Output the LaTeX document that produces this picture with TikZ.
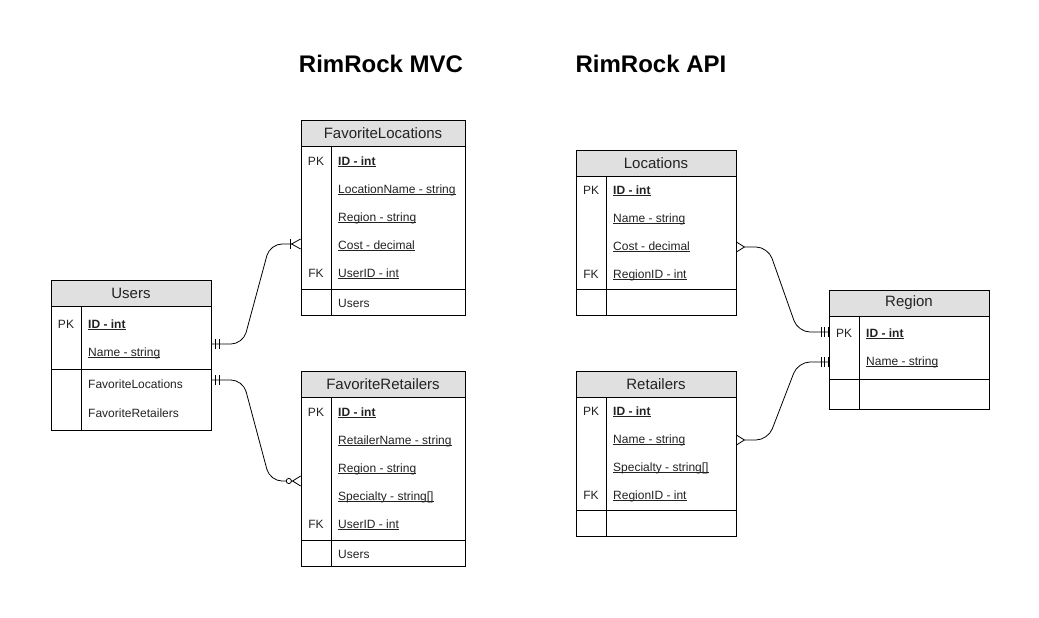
\documentclass[tikz,border=0pt]{standalone}
\usepackage{fontspec}
\setmainfont{Liberation Sans}
\usetikzlibrary{arrows.meta}
\definecolor{headgray}{HTML}{E0E0E0}
\definecolor{textgray}{HTML}{222222}
\newsavebox{\ulbox}
\newcommand{\uln}[1]{\sbox{\ulbox}{#1}\rlap{\rule[-1.9pt]{\wd\ulbox}{0.7pt}}\usebox{\ulbox}}
\tikzstyle{title} = [font=\fontsize{24}{28}\selectfont\bfseries, text=black]
\tikzstyle{header} = [rectangle, minimum width=160pt, minimum height=26pt, inner sep=0pt, outer sep=0pt, line width=0.8pt, draw=black, fill=headgray, text=textgray, font=\fontsize{15}{18}\selectfont]
\tikzstyle{body} = [rectangle, minimum width=160pt, inner sep=0pt, outer sep=0pt, line width=0.8pt, draw=black]
\tikzstyle{field} = [anchor=base west, inner sep=0pt, text=textgray, font=\fontsize{12}{14}\selectfont]
\tikzstyle{key} = [anchor=base, inner sep=0pt, text=textgray, font=\fontsize{12}{14}\selectfont]
\tikzstyle{line} = [draw=black, line width=0.8pt]
\tikzstyle{conn} = [line width=0.8pt, rounded corners=12pt]
\tikzset{
  ERone/.tip = {Bar[width=10pt,sep=3pt] Bar[width=10pt,sep=3pt] Bar[width=10pt]},
  ERmany/.tip = {Straight Barb[reversed,length=8pt,width=10pt]},
  ERonemany/.tip = {Bar[width=10pt,sep=0pt] Straight Barb[reversed,length=9pt,width=10pt]},
  ERzeromany/.tip = {Circle[length=6pt,fill=white,sep=0pt] Straight Barb[reversed,length=8pt,width=10pt]},
}

\begin{document}
\begin{tikzpicture}[x=1pt, y=1pt, yscale=-1]
\useasboundingbox (0,0) rectangle (1039,618);

\node at (381, 64) (mvc) [title] {RimRock MVC};
\node at (651, 64) (api) [title] {RimRock API};

% Users
\node at (131, 293) (users) [header] {Users};
\node at (131, 368) (usersbody) [body, minimum height=124pt] {};
\draw [line] ([xshift=30pt]usersbody.north west) -- ([xshift=30pt]usersbody.south west);
\draw [line] (usersbody.west |- 0,369) -- (usersbody.east |- 0,369);
\node at (66, 328) (userspk) [key] {PK};
\node at (88, 328) (usersid) [field] {\uln{\textbf{ID - int}}};
\node at (88, 356) (usersname) [field] {\uln{Name - string}};
\node at (88, 388) (usersfl) [field] {FavoriteLocations};
\node at (88, 417) (usersfr) [field] {FavoriteRetailers};

% FavoriteLocations
\node at (383, 133) (favloc) [header, minimum width=164pt] {FavoriteLocations};
\node at (383, 230.5) (favlocbody) [body, minimum width=164pt, minimum height=169pt] {};
\draw [line] ([xshift=30pt]favlocbody.north west) -- ([xshift=30pt]favlocbody.south west);
\draw [line] (favlocbody.west |- 0,289) -- (favlocbody.east |- 0,289);
\node at (316, 165) (favlocpk) [key] {PK};
\node at (316, 277) (favlocfk) [key] {FK};
\node at (338, 165) (favlocid) [field] {\uln{\textbf{ID - int}}};
\node at (338, 193) (favlocname) [field] {\uln{LocationName - string}};
\node at (338, 221) (favlocregion) [field] {\uln{Region - string}};
\node at (338, 249) (favloccost) [field] {\uln{Cost - decimal}};
\node at (338, 277) (favlocuser) [field] {\uln{UserID - int}};
\node at (338, 307) (favlocusers) [field] {Users};

% FavoriteRetailers
\node at (383, 384) (favret) [header, minimum width=164pt] {FavoriteRetailers};
\node at (383, 481.5) (favretbody) [body, minimum width=164pt, minimum height=169pt] {};
\draw [line] ([xshift=30pt]favretbody.north west) -- ([xshift=30pt]favretbody.south west);
\draw [line] (favretbody.west |- 0,540) -- (favretbody.east |- 0,540);
\node at (316, 416) (favretpk) [key] {PK};
\node at (316, 528) (favretfk) [key] {FK};
\node at (338, 416) (favretid) [field] {\uln{\textbf{ID - int}}};
\node at (338, 444) (favretname) [field] {\uln{RetailerName - string}};
\node at (338, 472) (favretregion) [field] {\uln{Region - string}};
\node at (338, 500) (favretspec) [field] {\uln{Specialty - string[]}};
\node at (338, 528) (favretuser) [field] {\uln{UserID - int}};
\node at (338, 558) (favretusers) [field] {Users};

% Locations
\node at (656, 163) (loc) [header] {Locations};
\node at (656, 245.5) (locbody) [body, minimum height=139pt] {};
\draw [line] ([xshift=30pt]locbody.north west) -- ([xshift=30pt]locbody.south west);
\draw [line] (locbody.west |- 0,289) -- (locbody.east |- 0,289);
\node at (591, 194) (locpk) [key] {PK};
\node at (591, 278) (locfk) [key] {FK};
\node at (613, 194) (locid) [field] {\uln{\textbf{ID - int}}};
\node at (613, 222) (locname) [field] {\uln{Name - string}};
\node at (613, 250) (loccost) [field] {\uln{Cost - decimal}};
\node at (613, 278) (locregion) [field] {\uln{RegionID - int}};

% Retailers
\node at (656, 384) (ret) [header] {Retailers};
\node at (656, 466.5) (retbody) [body, minimum height=139pt] {};
\draw [line] ([xshift=30pt]retbody.north west) -- ([xshift=30pt]retbody.south west);
\draw [line] (retbody.west |- 0,510) -- (retbody.east |- 0,510);
\node at (591, 415) (retpk) [key] {PK};
\node at (591, 499) (retfk) [key] {FK};
\node at (613, 415) (retid) [field] {\uln{\textbf{ID - int}}};
\node at (613, 443) (retname) [field] {\uln{Name - string}};
\node at (613, 471) (retspec) [field] {\uln{Specialty - string[]}};
\node at (613, 499) (retregion) [field] {\uln{RegionID - int}};

% Region
\node at (909, 303) (region) [header] {Region};
\node at (909, 362.5) (regionbody) [body, minimum height=93pt] {};
\draw [line] ([xshift=30pt]regionbody.north west) -- ([xshift=30pt]regionbody.south west);
\draw [line] (regionbody.west |- 0,379) -- (regionbody.east |- 0,379);
\node at (844, 337) (regionpk) [key] {PK};
\node at (866, 337) (regionid) [field] {\uln{\textbf{ID - int}}};
\node at (866, 365) (regionname) [field] {\uln{Name - string}};

% relations
\coordinate (usr1) at (usersbody.east |- 0,344);
\coordinate (usr2) at (usersbody.east |- 0,380);
\coordinate (fl1) at (favlocbody.west |- 0,244);
\coordinate (fr1) at (favretbody.west |- 0,481);
\coordinate (loc1) at (locbody.east |- 0,247);
\coordinate (ret1) at (retbody.east |- 0,440);
\coordinate (reg1) at (regionbody.west |- 0,332);
\coordinate (reg2) at (regionbody.west |- 0,362);

\draw [conn, {ERone}-{ERonemany}] (usr1) -- ++(32,0) -- ([xshift=-31pt]fl1) -- (fl1);
\draw [conn, {ERone}-{ERzeromany}] (usr2) -- ++(32,0) -- ([xshift=-31pt]fr1) -- (fr1);
\draw [conn, {ERmany}-{ERone}] (loc1) -- ++(32,0) -- ([xshift=-31pt]reg1) -- (reg1);
\draw [conn, {ERmany}-{ERone}] (ret1) -- ++(32,0) -- ([xshift=-31pt]reg2) -- (reg2);

\end{tikzpicture}
\end{document}
